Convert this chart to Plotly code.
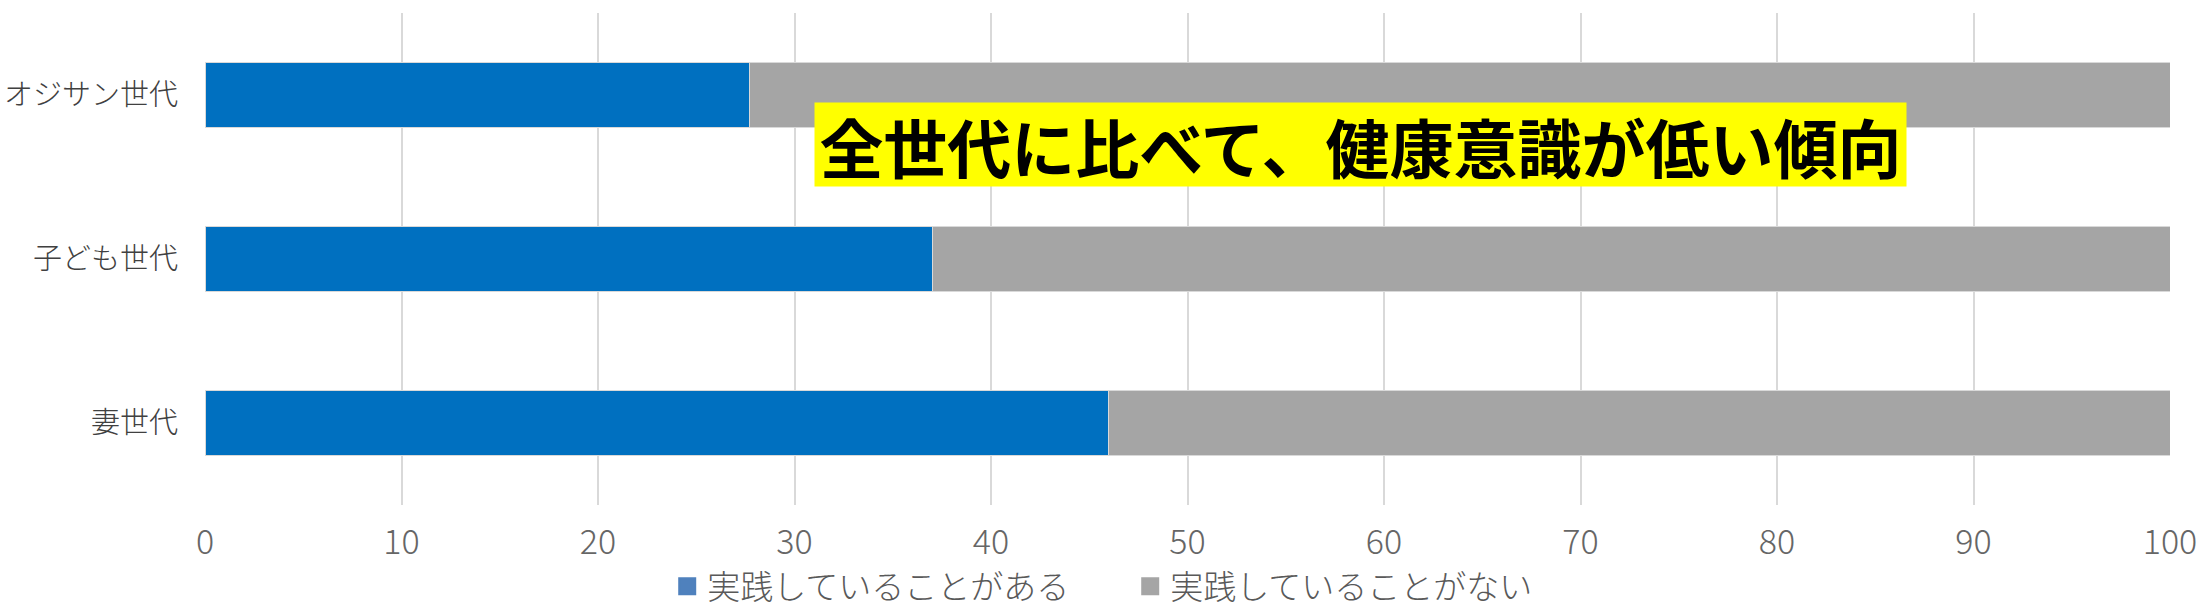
import plotly.graph_objects as go

GENERATIONS = ["妻世代", "子ども世代", "オジサン世代"]
PRACTICED = [46.0, 37.0, 27.7]
NOT_PRACTICED = [54.0, 63.0, 72.3]
SERIES_NAMES = ["実践していることがある", "実践していることがない"]
X_TICKS = [0, 10, 20, 30, 40, 50, 60, 70, 80, 90, 100]
CALLOUT = "全世代に比べて、健康意識が低い傾向"

FONT = "Noto Sans CJK JP"
BAR_COLORS = ["#0070C0", "#A5A5A5"]
LEGEND_COLORS = ["#4F81BD", "#A5A5A5"]

fig = go.Figure()
for name, values, color in zip(SERIES_NAMES, [PRACTICED, NOT_PRACTICED], BAR_COLORS):
    fig.add_bar(
        x=values,
        y=GENERATIONS,
        name=name,
        orientation="h",
        width=0.4,
        showlegend=False,
        marker={"color": color, "line": {"color": "#d9d9d9", "width": 1}},
    )

# legend swatches drawn as square markers so they come out the right size
for name, color in zip(SERIES_NAMES, LEGEND_COLORS):
    fig.add_scatter(
        x=[None],
        y=[None],
        name=name,
        mode="markers",
        marker={"symbol": "square", "size": 16, "color": color,
                "line": {"color": color, "width": 2}},
    )

fig.add_annotation(
    x=58.8,
    y=1.7,
    xref="x",
    yref="y",
    text=f"<b>{CALLOUT}</b>",
    showarrow=False,
    bgcolor="#FFFF00",
    borderpad=0,
    width=1091,
    height=83,
    font={"family": FONT, "size": 64, "color": "#000000"},
)

fig.update_layout(
    width=2201,
    height=612,
    barmode="stack",
    plot_bgcolor="#ffffff",
    paper_bgcolor="#ffffff",
    margin={"l": 205, "r": 31, "t": 13, "b": 107, "autoexpand": False},
    font={"family": FONT, "color": "#595959", "weight": 300},
    legend={
        "orientation": "h",
        "xref": "container",
        "x": 0.5135,
        "xanchor": "center",
        "y": -0.165,
        "yanchor": "middle",
        "font": {"size": 33, "color": "#595959", "weight": 300},
        "itemwidth": 30,
        "entrywidth": 418,
        "traceorder": "normal",
    },
)
fig.update_xaxes(
    range=[0, 100],
    tickvals=X_TICKS,
    showgrid=True,
    gridcolor="#d9d9d9",
    gridwidth=2,
    zeroline=False,
    showline=False,
    tickfont={"size": 34, "color": "#666666", "weight": 300},
    ticklen=0,
    ticklabelstandoff=14,
    automargin=False,
)
fig.update_yaxes(
    range=[-0.5, 2.5],
    showgrid=False,
    showline=False,
    tickfont={"size": 29, "color": "#404040", "weight": 300},
    ticklen=0,
    ticklabelstandoff=26,
    automargin=False,
)

# drop the default 8px body margin so the figure fills the window exactly
fig.write_html(
    "out.html",
    config={"displayModeBar": False},
    post_script="document.body.style.margin = '0';",
)
